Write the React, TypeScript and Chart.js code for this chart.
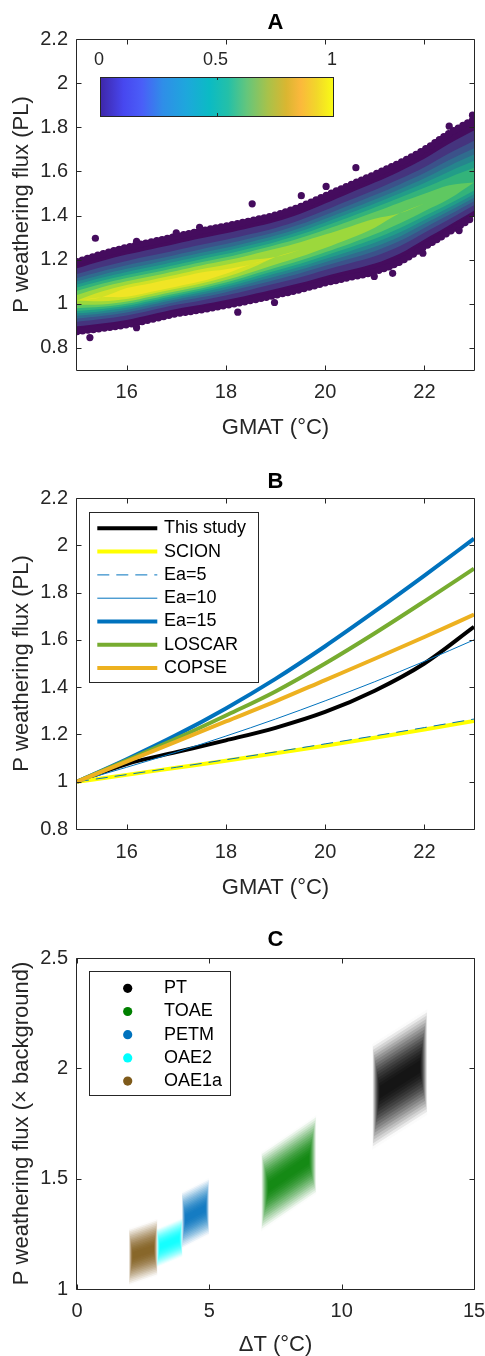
import React, { useEffect, useRef } from 'react';
import { Chart, registerables } from 'chart.js';

Chart.register(...registerables);

const FONT = '"Liberation Sans", Arial, Helvetica, sans-serif';
const AXIS_COLOR = '#262626';
const PAGE_W = 485;

// ---------------- Panel A : density-coloured cloud ----------------
const gmatKnotsA = [15, 15.5, 16, 16.5, 17, 17.5, 18, 18.5, 19, 19.5, 20, 20.5, 21, 21.5, 22, 22.5, 23];
const cloudUpperA = [1.19, 1.225, 1.255, 1.28, 1.305, 1.33, 1.352, 1.376, 1.402, 1.44, 1.488, 1.538, 1.586, 1.638, 1.698, 1.772, 1.835];
const cloudLowerA = [0.875, 0.889, 0.905, 0.93, 0.955, 0.973, 0.993, 1.015, 1.039, 1.065, 1.095, 1.12, 1.146, 1.19, 1.258, 1.326, 1.394];
const cloudCenterA = [1.015, 1.03, 1.048, 1.07, 1.093, 1.118, 1.145, 1.178, 1.212, 1.245, 1.282, 1.322, 1.365, 1.41, 1.455, 1.5, 1.55];
const cloudPeakA = [0.85, 0.95, 1.0, 1.0, 1.0, 1.0, 0.97, 0.93, 0.9, 0.88, 0.86, 0.84, 0.82, 0.8, 0.77, 0.74, 0.7];
const densityLevelsA = [0.04, 0.1, 0.2, 0.3, 0.4, 0.5, 0.6, 0.7, 0.8, 0.9, 0.96];
const outlierGmatA = [15.26, 15.37, 16.2, 16.2, 17.0, 17.47, 18.24, 18.53, 18.98, 19.52, 20.02, 20.62, 20.99, 21.36, 21.97, 22.5, 22.7, 22.97];
const outlierFluxA = [0.847, 1.297, 0.892, 1.283, 1.321, 1.347, 0.962, 1.453, 1.006, 1.49, 1.532, 1.617, 1.124, 1.138, 1.229, 1.805, 1.332, 1.855];
const colorbarTicksA = [0, 0.5, 1];
const yTicksA = [0.8, 1, 1.2, 1.4, 1.6, 1.8, 2, 2.2];
const xTicksGmat = [16, 18, 20, 22];

// ---------------- Panel B : model comparison ----------------
const gmatB = [15, 16, 17, 18, 19, 20, 21, 22, 23];
const thisStudyB = [1.0, 1.075, 1.125, 1.175, 1.228, 1.295, 1.385, 1.5, 1.655];
const scionB = [1.0, 1.029, 1.059, 1.089, 1.12, 1.152, 1.186, 1.221, 1.257];
const ea5B = [1.0, 1.03, 1.061, 1.093, 1.126, 1.16, 1.194, 1.229, 1.265];
const ea10B = [1.0, 1.061, 1.125, 1.193, 1.265, 1.342, 1.423, 1.509, 1.6];
const ea15B = [1.0, 1.095, 1.197, 1.31, 1.435, 1.573, 1.72, 1.872, 2.028];
const loscarB = [1.0, 1.09, 1.182, 1.28, 1.382, 1.5, 1.628, 1.763, 1.901];
const copseB = [1.0, 1.085, 1.17, 1.255, 1.34, 1.43, 1.52, 1.612, 1.707];
const seriesLabelsB = ['This study', 'SCION', 'Ea=5', 'Ea=10', 'Ea=15', 'LOSCAR', 'COPSE'];
const seriesValuesB = [thisStudyB, scionB, ea5B, ea10B, ea15B, loscarB, copseB];
const seriesColorsB = ['#000000', '#FFFF00', '#0072BD', '#0072BD', '#0072BD', '#77AC30', '#EDB120'];
const seriesWidthsB = [4, 4, 1, 1, 4, 4, 4];
const seriesDashB = [[], [], [12, 7], [], [], [], []];
const yTicksB = [0.8, 1, 1.2, 1.4, 1.6, 1.8, 2, 2.2];

// ---------------- Panel C : events ----------------
const eventNames = ['PT', 'TOAE', 'PETM', 'OAE2', 'OAE1a'];
const eventColors = ['#000000', '#008000', '#0072BD', '#00FFFF', '#7E5A1A'];
const dTMin = [11.15, 6.95, 3.95, 3.0, 1.95];
const dTMax = [13.25, 9.05, 5.0, 4.0, 3.05];
const fluxAtMin = [1.87, 1.44, 1.31, 1.185, 1.145];
const fluxAtMax = [2.03, 1.61, 1.375, 1.235, 1.19];
const fluxHalfSpread = [0.24, 0.18, 0.13, 0.09, 0.13];
const xTicksC = [0, 5, 10, 15];
const yTicksC = [1, 1.5, 2, 2.5];

// ---------------- style helpers ----------------
const VIRIDIS = [
  [68, 1, 84], [72, 36, 117], [65, 68, 135], [53, 95, 141], [42, 120, 142], [33, 145, 140],
  [34, 168, 132], [68, 191, 112], [122, 209, 81], [189, 223, 38], [253, 231, 37],
];
function viridis(t: number) {
  const s = Math.max(0, Math.min(1, t)) * 10;
  const i = Math.min(9, Math.floor(s));
  const f = s - i;
  const a = VIRIDIS[i], b = VIRIDIS[i + 1];
  const c = a.map((v, j) => Math.round(v + (b[j] - v) * f));
  return `rgb(${c[0]},${c[1]},${c[2]})`;
}
function rgba(hex: string, alpha: number) {
  const n = parseInt(hex.slice(1), 16);
  return `rgba(${(n >> 16) & 255},${(n >> 8) & 255},${n & 255},${alpha})`;
}
const PARULA_STOPS: [number, string][] = [
  [0, '#3e26a8'], [0.1, '#4747ef'], [0.18, '#4a5ef8'], [0.27, '#2f8ee8'], [0.37, '#1ea7dc'],
  [0.47, '#0bbbc4'], [0.55, '#24c0a8'], [0.63, '#64c67c'], [0.72, '#a8c24a'], [0.8, '#dab631'],
  [0.86, '#fbb83c'], [0.93, '#f2d72a'], [1, '#f9fb15'],
];
const EDGE_PURPLE = viridis(0.03);
const fmt = (v: any) => String(Math.round(Number(v) * 100) / 100);

// ---------------- plugins ----------------
const framePlugin = {
  id: 'frameTicks',
  afterDatasetsDraw(chart: any) {
    const { ctx, chartArea: a } = chart;
    const xs = chart.scales.x, ys = chart.scales.y;
    const L = Math.round(a.left) - 0.5, R = Math.round(a.right) + 0.5;
    const T = Math.round(a.top) + 0.5, B = Math.round(a.bottom) + 0.5;
    ctx.save();
    ctx.strokeStyle = AXIS_COLOR;
    ctx.lineWidth = 1;
    ctx.setLineDash([]);
    ctx.beginPath();
    ctx.rect(L, T, R - L, B - T);
    const tl = 5;
    for (const t of xs.ticks) {
      const p = Math.round(xs.getPixelForValue(t.value)) + 0.5;
      ctx.moveTo(p, B); ctx.lineTo(p, B - tl);
      ctx.moveTo(p, T); ctx.lineTo(p, T + tl);
    }
    for (const t of ys.ticks) {
      const p = Math.round(ys.getPixelForValue(t.value)) + 0.5;
      ctx.moveTo(L, p); ctx.lineTo(L + tl, p);
      ctx.moveTo(R, p); ctx.lineTo(R - tl, p);
    }
    ctx.stroke();
    ctx.restore();
  },
};

function makeColorbarPlugin() {
  return {
    id: 'colorbarA',
    afterDraw(chart: any) {
      const { ctx, chartArea: a } = chart;
      const x0 = Math.round(a.left) + 23, y0 = Math.round(a.top) + 38, w = 233, h = 39;
      ctx.save();
      const g = ctx.createLinearGradient(x0, 0, x0 + w, 0);
      PARULA_STOPS.forEach(([o, c]) => g.addColorStop(o, c));
      ctx.fillStyle = g;
      ctx.fillRect(x0, y0, w, h);
      ctx.strokeStyle = AXIS_COLOR;
      ctx.lineWidth = 1;
      ctx.strokeRect(x0 + 0.5, y0 + 0.5, w, h);
      ctx.beginPath();
      colorbarTicksA.forEach((t) => {
        const px = Math.round(x0 + t * w) + 0.5;
        ctx.moveTo(px, y0); ctx.lineTo(px, y0 + 3);
        ctx.moveTo(px, y0 + h); ctx.lineTo(px, y0 + h - 3);
      });
      ctx.stroke();
      ctx.fillStyle = AXIS_COLOR;
      ctx.font = `18px ${FONT}`;
      ctx.textAlign = 'center';
      ctx.textBaseline = 'middle';
      colorbarTicksA.forEach((t) => {
        ctx.fillText(fmt(t), x0 + t * w - 1, y0 - 17);
      });
      ctx.restore();
    },
  };
}

type LegendItem = { label: string; color: string; kind: 'line' | 'dot'; width?: number; dash?: number[] };
function makeLegendPlugin(items: LegendItem[], box: { dx: number; dy: number; w: number; h: number; rowY: number; rowH: number; symX0: number; symX1: number; textX: number }) {
  return {
    id: 'legendBox',
    afterDraw(chart: any) {
      const { ctx, chartArea: a } = chart;
      const x0 = Math.round(a.left + box.dx) + 0.5, y0 = Math.round(a.top + box.dy) + 0.5;
      ctx.save();
      ctx.fillStyle = '#ffffff';
      ctx.fillRect(x0, y0, box.w, box.h);
      ctx.strokeStyle = AXIS_COLOR;
      ctx.lineWidth = 1;
      ctx.strokeRect(x0, y0, box.w, box.h);
      items.forEach((it, i) => {
        const y = a.top + box.rowY + i * box.rowH;
        if (it.kind === 'line') {
          ctx.strokeStyle = it.color;
          ctx.lineWidth = it.width || 1;
          ctx.setLineDash(it.dash || []);
          ctx.beginPath();
          ctx.moveTo(a.left + box.symX0, y);
          ctx.lineTo(a.left + box.symX1, y);
          ctx.stroke();
          ctx.setLineDash([]);
        } else {
          ctx.fillStyle = it.color;
          ctx.beginPath();
          ctx.arc(a.left + box.symX0, y, 4.6, 0, Math.PI * 2);
          ctx.fill();
        }
        ctx.fillStyle = '#000000';
        ctx.font = `18px ${FONT}`;
        ctx.textAlign = 'left';
        ctx.textBaseline = 'middle';
        ctx.fillText(it.label, a.left + box.textX, y);
      });
      ctx.restore();
    },
  };
}

// ---------------- options ----------------
type Opt = {
  title: string; titleTop: number; titleBottom: number;
  canvasH: number; plotBottom: number;
  xMin: number; xMax: number; yMin: number; yMax: number;
  xTicks: number[]; yTicks: number[];
  xTitle: string; yTitle: string; xTickPad: number; xTitlePad: number;
};
function makeOptions(p: Opt): any {
  const tickFont = { family: FONT, size: 20 };
  const titleFont = { family: FONT, size: 22, lineHeight: 1 };
  return {
    responsive: false,
    animation: false,
    devicePixelRatio: 1,
    events: [],
    layout: { padding: { left: 0, right: 11, top: 0, bottom: 0 } },
    plugins: {
      legend: { display: false },
      tooltip: { enabled: false },
      title: {
        display: true,
        text: p.title,
        fullSize: false,
        color: '#000000',
        font: { family: FONT, size: 22, weight: 'bold', lineHeight: 1 },
        padding: { top: p.titleTop, bottom: p.titleBottom },
      },
    },
    scales: {
      x: {
        type: 'linear',
        min: p.xMin,
        max: p.xMax,
        grid: { display: false, drawTicks: false },
        border: { display: false },
        ticks: { autoSkip: false, maxRotation: 0, padding: p.xTickPad, color: AXIS_COLOR, font: tickFont, callback: fmt },
        afterBuildTicks: (s: any) => { s.ticks = p.xTicks.map((value) => ({ value })); },
        afterFit: (s: any) => { s.height = p.canvasH - p.plotBottom; s.paddingLeft = 0; s.paddingRight = 0; },
        title: { display: true, text: p.xTitle, color: AXIS_COLOR, font: titleFont, padding: { top: 0, bottom: p.xTitlePad } },
      },
      y: {
        type: 'linear',
        min: p.yMin,
        max: p.yMax,
        grid: { display: false, drawTicks: false },
        border: { display: false },
        ticks: { autoSkip: false, padding: 9, color: AXIS_COLOR, font: tickFont, callback: fmt },
        afterBuildTicks: (s: any) => { s.ticks = p.yTicks.map((value) => ({ value })); },
        afterFit: (s: any) => { s.width = 77; s.paddingTop = 0; s.paddingBottom = 0; },
        title: { display: true, text: p.yTitle, color: AXIS_COLOR, font: titleFont, padding: { top: 11, bottom: 0 } },
      },
    },
  };
}

// ---------------- chart configs ----------------
function configA(): any {
  const t0 = densityLevelsA[0];
  const datasets: any[] = [];
  densityLevelsA.forEach((t, k) => {
    const frac = cloudPeakA.map((pk) => (pk > t ? Math.sqrt(Math.log(pk / t) / Math.log(pk / t0)) : 0));
    const upper = gmatKnotsA.map((x, i) => ({ x, y: cloudCenterA[i] + (cloudUpperA[i] - cloudCenterA[i]) * frac[i] }));
    const lower = gmatKnotsA.map((x, i) => ({ x, y: cloudCenterA[i] - (cloudCenterA[i] - cloudLowerA[i]) * frac[i] }));
    const next = densityLevelsA[k + 1] !== undefined ? densityLevelsA[k + 1] : 1;
    const color = k === 0 ? EDGE_PURPLE : viridis((t + next) / 2);
    const edge = k === 0;
    const common = {
      type: 'line', pointRadius: 0, tension: 0.35, borderColor: color, backgroundColor: color,
      borderWidth: edge ? 7.5 : 0, borderCapStyle: 'round', borderJoinStyle: 'round',
      borderDash: edge ? [0, 5.5] : [],
    };
    datasets.push({ ...common, label: `level ${t}`, data: upper, fill: '+1', order: 1000 - 2 * k });
    datasets.push({ ...common, label: `level ${t} low`, data: lower, fill: false, order: 999 - 2 * k });
  });
  datasets.push({
    type: 'scatter',
    label: 'samples',
    data: outlierGmatA.map((x, i) => ({ x, y: outlierFluxA[i] })),
    pointRadius: 3.6,
    pointBorderWidth: 0,
    backgroundColor: EDGE_PURPLE,
    order: 0,
  });
  return {
    type: 'line',
    data: { datasets },
    options: makeOptions({
      title: 'A', titleTop: 11.5, titleBottom: 5.5, canvasH: 460, plotBottom: 370,
      xMin: 15, xMax: 23, yMin: 0.7, yMax: 2.2, xTicks: xTicksGmat, yTicks: yTicksA,
      xTitle: 'GMAT (°C)', yTitle: 'P weathering flux (PL)', xTickPad: 10, xTitlePad: 21.5,
    }),
    plugins: [framePlugin, makeColorbarPlugin()],
  };
}

function configB(): any {
  const datasets = seriesLabelsB.map((label, s) => ({
    type: 'line',
    label,
    data: gmatB.map((x, i) => ({ x, y: seriesValuesB[s][i] })),
    borderColor: seriesColorsB[s],
    backgroundColor: seriesColorsB[s],
    borderWidth: seriesWidthsB[s],
    borderDash: seriesDashB[s],
    pointRadius: 0,
    fill: false,
    cubicInterpolationMode: 'monotone',
    order: -s,
  }));
  const items: LegendItem[] = seriesLabelsB.map((label, s) => ({
    label, color: seriesColorsB[s], kind: 'line', width: seriesWidthsB[s], dash: seriesDashB[s],
  }));
  return {
    type: 'line',
    data: { datasets },
    options: makeOptions({
      title: 'B', titleTop: 10.7, titleBottom: 5.3, canvasH: 450, plotBottom: 369,
      xMin: 15, xMax: 23, yMin: 0.8, yMax: 2.2, xTicks: xTicksGmat, yTicks: yTicksB,
      xTitle: 'GMAT (°C)', yTitle: 'P weathering flux (PL)', xTickPad: 11, xTitlePad: 11.5,
    }),
    plugins: [framePlugin, makeLegendPlugin(items, { dx: 12, dy: 14, w: 169, h: 170, rowY: 30.3, rowH: 23.3, symX0: 20.3, symX1: 80.3, textX: 87 })],
  };
}

// nested translucent bands: spread fraction per band and the cumulative opacity it should reach
const BANDS_C = 16;

function configC(): any {
  const datasets: any[] = [];
  const fracs: number[] = [];
  for (let k = 0; k < BANDS_C; k++) fracs.push(1 - (k / BANDS_C) * 0.94);
  const target = fracs.map((f) => 0.94 * Math.pow(Math.max(0, 1 - 0.97 * f * f), 1.2));
  const alphas = target.map((o, k) => (k === 0 ? o : 1 - (1 - o) / (1 - target[k - 1])));
  eventNames.forEach((name, e) => {
    const w = dTMax[e] - dTMin[e];
    const slope = (fluxAtMax[e] - fluxAtMin[e]) / w;
    fracs.forEach((f, k) => {
      const inset = (1 - f) * w * 0.15;
      const xa = dTMin[e] + inset, xb = dTMax[e] - inset;
      const ca = fluxAtMin[e] + slope * inset, cb = fluxAtMax[e] - slope * inset;
      const hw = fluxHalfSpread[e] * f;
      const color = rgba(eventColors[e], Math.max(0, alphas[k]));
      datasets.push({
        type: 'line', label: `${name} ${k}`, data: [{ x: xa, y: ca + hw }, { x: xb, y: cb + hw }],
        fill: '+1', backgroundColor: color, borderWidth: 0, pointRadius: 0, order: 100 - k,
      });
      datasets.push({
        type: 'line', label: `${name} ${k} low`, data: [{ x: xa, y: ca - hw }, { x: xb, y: cb - hw }],
        fill: false, borderWidth: 0, pointRadius: 0, order: 100 - k,
      });
    });
  });
  const items: LegendItem[] = eventNames.map((label, e) => ({ label, color: eventColors[e], kind: 'dot' }));
  return {
    type: 'line',
    data: { datasets },
    options: makeOptions({
      title: 'C', titleTop: 19, titleBottom: 7, canvasH: 446, plotBottom: 379,
      xMin: 0, xMax: 15, yMin: 1, yMax: 2.5, xTicks: xTicksC, yTicks: yTicksC,
      xTitle: 'ΔT (°C)', yTitle: 'P weathering flux (× background)', xTickPad: 10, xTitlePad: 0,
    }),
    plugins: [framePlugin, makeLegendPlugin(items, { dx: 12, dy: 13, w: 141, h: 124, rowY: 30.3, rowH: 23.2, symX0: 50.7, symX1: 50.7, textX: 87 })],
  };
}

function ChartCanvas({ top, height, build }: { top: number; height: number; build: () => any }) {
  const ref = useRef<HTMLCanvasElement>(null);
  useEffect(() => {
    const chart = new Chart(ref.current as HTMLCanvasElement, build());
    return () => chart.destroy();
  }, []);
  return (
    <canvas
      ref={ref}
      width={PAGE_W}
      height={height}
      style={{ position: 'absolute', left: 0, top, width: PAGE_W, height, display: 'block' }}
    />
  );
}

export default function App() {
  return (
    <div style={{ position: 'absolute', left: 0, top: 0, width: PAGE_W, height: 1356, overflow: 'hidden', background: '#ffffff' }}>
      <ChartCanvas top={0} height={460} build={configA} />
      <ChartCanvas top={460} height={450} build={configB} />
      <ChartCanvas top={910} height={446} build={configC} />
    </div>
  );
}
